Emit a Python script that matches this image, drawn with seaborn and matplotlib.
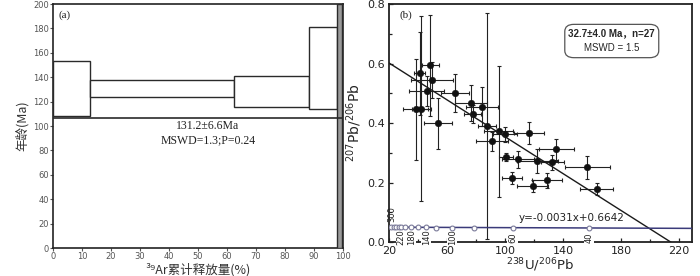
import numpy as np
import pandas as pd
import matplotlib
matplotlib.use("Agg")
import matplotlib.pyplot as plt
from matplotlib.patches import Rectangle, FancyBboxPatch
import seaborn as sns

# ---- panel (a): 39Ar release spectrum ----
step_start = [0.0, 12.9, 62.5, 88.3]
step_end = [12.9, 62.5, 88.3, 98.0]
step_low = [108, 124, 116, 114]
step_high = [153, 138, 141, 181]
last_step = [98.0, 99.8]          # grey step with huge error (whole height)
plateau_y = 106.3
plateau_label = ["131.2±6.6Ma", "MSWD=1.3;P=0.24"]

# ---- panel (b): Tera-Wasserburg plot ----
u_pb = [48.5, 41.1, 49.6, 46.1, 65.6, 38.3, 42.3, 53.7, 76.6, 84.4, 77.6, 87.5,
        95.6, 100.0, 91.1, 116.7, 100.7, 108.9, 122.4, 135.5, 132.5, 104.8,
        119.0, 129.1, 156.8, 163.2]
pb_pb = [0.594, 0.567, 0.546, 0.508, 0.500, 0.446, 0.449, 0.399, 0.468, 0.455,
         0.430, 0.389, 0.373, 0.363, 0.339, 0.367, 0.285, 0.278, 0.272, 0.312,
         0.268, 0.214, 0.188, 0.208, 0.251, 0.178]
u_pb_err = [5.7, 4.0, 14.5, 12.0, 9.7, 8.3, 6.6, 9.5, 11.0, 11.0, 6.0, 6.0,
            10.0, 8.0, 11.0, 10.3, 4.5, 11.0, 14.0, 12.0, 8.0, 6.7, 10.7,
            10.5, 15.7, 11.5]
pb_pb_err = [0.17, 0.14, 0.06, 0.05, 0.064, 0.17, 0.31, 0.085, 0.06, 0.065,
             0.03, 0.38, 0.22, 0.025, 0.032, 0.036, 0.014, 0.029, 0.04, 0.035,
             0.025, 0.02, 0.02, 0.025, 0.039, 0.02]

fit_slope = -0.0031
fit_intercept = 0.6642

conc_age = [300, 280, 260, 240, 220, 200, 180, 160, 140, 120, 100, 80, 60, 40]
conc_x = [21.6, 23.2, 25.1, 26.7, 28.5, 31.3, 35.4, 39.9, 45.7, 52.6, 63.6,
          78.9, 105.2, 158.0]
conc_y = [0.050, 0.050, 0.050, 0.050, 0.050, 0.049, 0.049, 0.049, 0.049,
          0.048, 0.048, 0.048, 0.047, 0.047]
conc_line_x = [20, 229]
conc_line_y = [0.050, 0.046]
conc_labels = [220, 180, 140, 100, 60, 40]

sns.set_style("ticks")
plt.rcParams['font.family'] = ['DejaVu Sans', 'Noto Sans CJK SC']
plt.rcParams['mathtext.default'] = 'regular'
cjk = ['Noto Sans CJK SC', 'DejaVu Sans']
serif = ['Liberation Serif', 'DejaVu Serif']

fig = plt.figure(figsize=(7.0, 2.76), dpi=100)
ax1 = fig.add_axes([0.0757, 0.1014, 0.414, 0.884])
ax2 = fig.add_axes([0.5557, 0.123, 0.433, 0.862])

# ---------- (a) ----------
edge = '#2a2a2a'
for x0, x1, lo, hi in zip(step_start, step_end, step_low, step_high):
    ax1.add_patch(Rectangle((x0, lo), x1 - x0, hi - lo, facecolor='white',
                            edgecolor=edge, lw=1.0, zorder=3))
ax1.add_patch(Rectangle((last_step[0], 0), last_step[1] - last_step[0], 200,
                        facecolor='#9a9a9a', edgecolor=edge, lw=1.0, zorder=3))
ax1.axhline(plateau_y, color=edge, lw=1.2, zorder=4)
ax1.text(53.5, 100, plateau_label[0], ha='center', va='center', fontsize=8.5,
         family=serif, color='#222')
ax1.text(53.5, 88.5, plateau_label[1], ha='center', va='center', fontsize=8.5,
         family=serif, color='#222')
ax1.text(0.02, 0.975, "(a)", transform=ax1.transAxes, ha='left', va='top',
         fontsize=8, family=serif, color='#222')
ax1.set_xlim(0, 100)
ax1.set_ylim(0, 200)
ax1.set_xticks(range(0, 101, 10))
ax1.set_yticks(range(0, 201, 20))
ax1.tick_params(labelsize=6, colors='#555', length=2, width=0.8, pad=1)
for s in ax1.spines.values():
    s.set_linewidth(1.2)
    s.set_color('#222')
ax1.set_xlabel('³⁹Ar累计释放量(%)', family=cjk, fontsize=9, color='#333',
               labelpad=1)
ax1.set_ylabel('年龄(Ma)', family=cjk, fontsize=9, color='#333', labelpad=3)

# ---------- (b) ----------
df = pd.DataFrame({'u': u_pb, 'pb': pb_pb, 'ue': u_pb_err, 'pe': pb_pb_err})
ax2.errorbar(df['u'], df['pb'], xerr=df['ue'], yerr=df['pe'], fmt='none',
             ecolor='#222', elinewidth=0.8, capsize=1.5, capthick=0.8, zorder=3)
sns.scatterplot(data=df, x='u', y='pb', ax=ax2, color='#111', s=22,
                edgecolor='#111', zorder=4, legend=False)

fx = np.array([20, 229])
fy = fit_slope * fx + fit_intercept
ax2.plot(fx, fy, color='#1a1a1a', lw=1.0, zorder=5)

# concordia with age marks
ax2.plot(conc_line_x, conc_line_y, color='#3b3b7a', lw=1.1, zorder=7)
for age, x in zip(conc_age, conc_x):
    if age in conc_labels:
        ax2.text(x, 0.016, str(age), rotation=90, ha='center', va='center',
                 fontsize=6, color='#222', zorder=6,
                 bbox=dict(facecolor='white', edgecolor='none', pad=0.4))
ax2.text(conc_x[0], 0.093, str(conc_age[0]), rotation=90, ha='center',
         va='center', fontsize=6, color='#222', zorder=6)
conc = pd.DataFrame({'x': conc_x, 'y': conc_y, 'age': conc_age})
sns.scatterplot(data=conc, x='x', y='y', ax=ax2, s=12, facecolor='white',
                edgecolor='#7a7a99', linewidth=0.8, zorder=8, legend=False)

ax2.text(146, 0.08, 'y=-0.0031x+0.6642', ha='center', va='center',
         fontsize=7.5, color='#222')
ax2.text(0.035, 0.975, "(b)", transform=ax2.transAxes, ha='left', va='top',
         fontsize=8, family=serif, color='#222')

box = FancyBboxPatch((0.585, 0.78), 0.3, 0.13, transform=ax2.transAxes,
                     boxstyle='round,pad=0.005,rounding_size=0.03',
                     facecolor='white', edgecolor='#555', lw=0.9, zorder=6)
ax2.add_patch(box)
ax2.text(0.735, 0.878, '32.7±4.0 Ma，n=27', transform=ax2.transAxes,
         ha='center', va='center', fontsize=7, fontweight='bold',
         family=['Liberation Sans', 'Noto Sans CJK SC'], zorder=7)
ax2.text(0.735, 0.815, 'MSWD = 1.5', transform=ax2.transAxes,
         ha='center', va='center', fontsize=7,
         family=['Liberation Sans', 'DejaVu Sans'], zorder=7)

ax2.set_xlim(20, 229)
ax2.set_ylim(0, 0.8)
ax2.set_xticks([20, 60, 100, 140, 180, 220])
ax2.set_xticks(range(40, 221, 40), minor=True)
ax2.set_yticks([0.0, 0.2, 0.4, 0.6, 0.8])
ax2.set_yticks([0.1, 0.3, 0.5, 0.7], minor=True)
ax2.set_yticklabels(['0.0', '0.2', '0.4', '0.6', '0.8'])
ax2.tick_params(which='both', direction='in', length=3, width=0.9,
                labelsize=8, colors='#222', pad=3)
ax2.tick_params(which='minor', length=2)
for s in ax2.spines.values():
    s.set_linewidth(1.3)
    s.set_color('#222')
ax2.set_xlabel('$^{238}$U/$^{206}$Pb', fontsize=9.5, labelpad=0)
ax2.set_ylabel('$^{207}$Pb/$^{206}$Pb', fontsize=10, labelpad=2)

fig.savefig('out.png', dpi=100)
